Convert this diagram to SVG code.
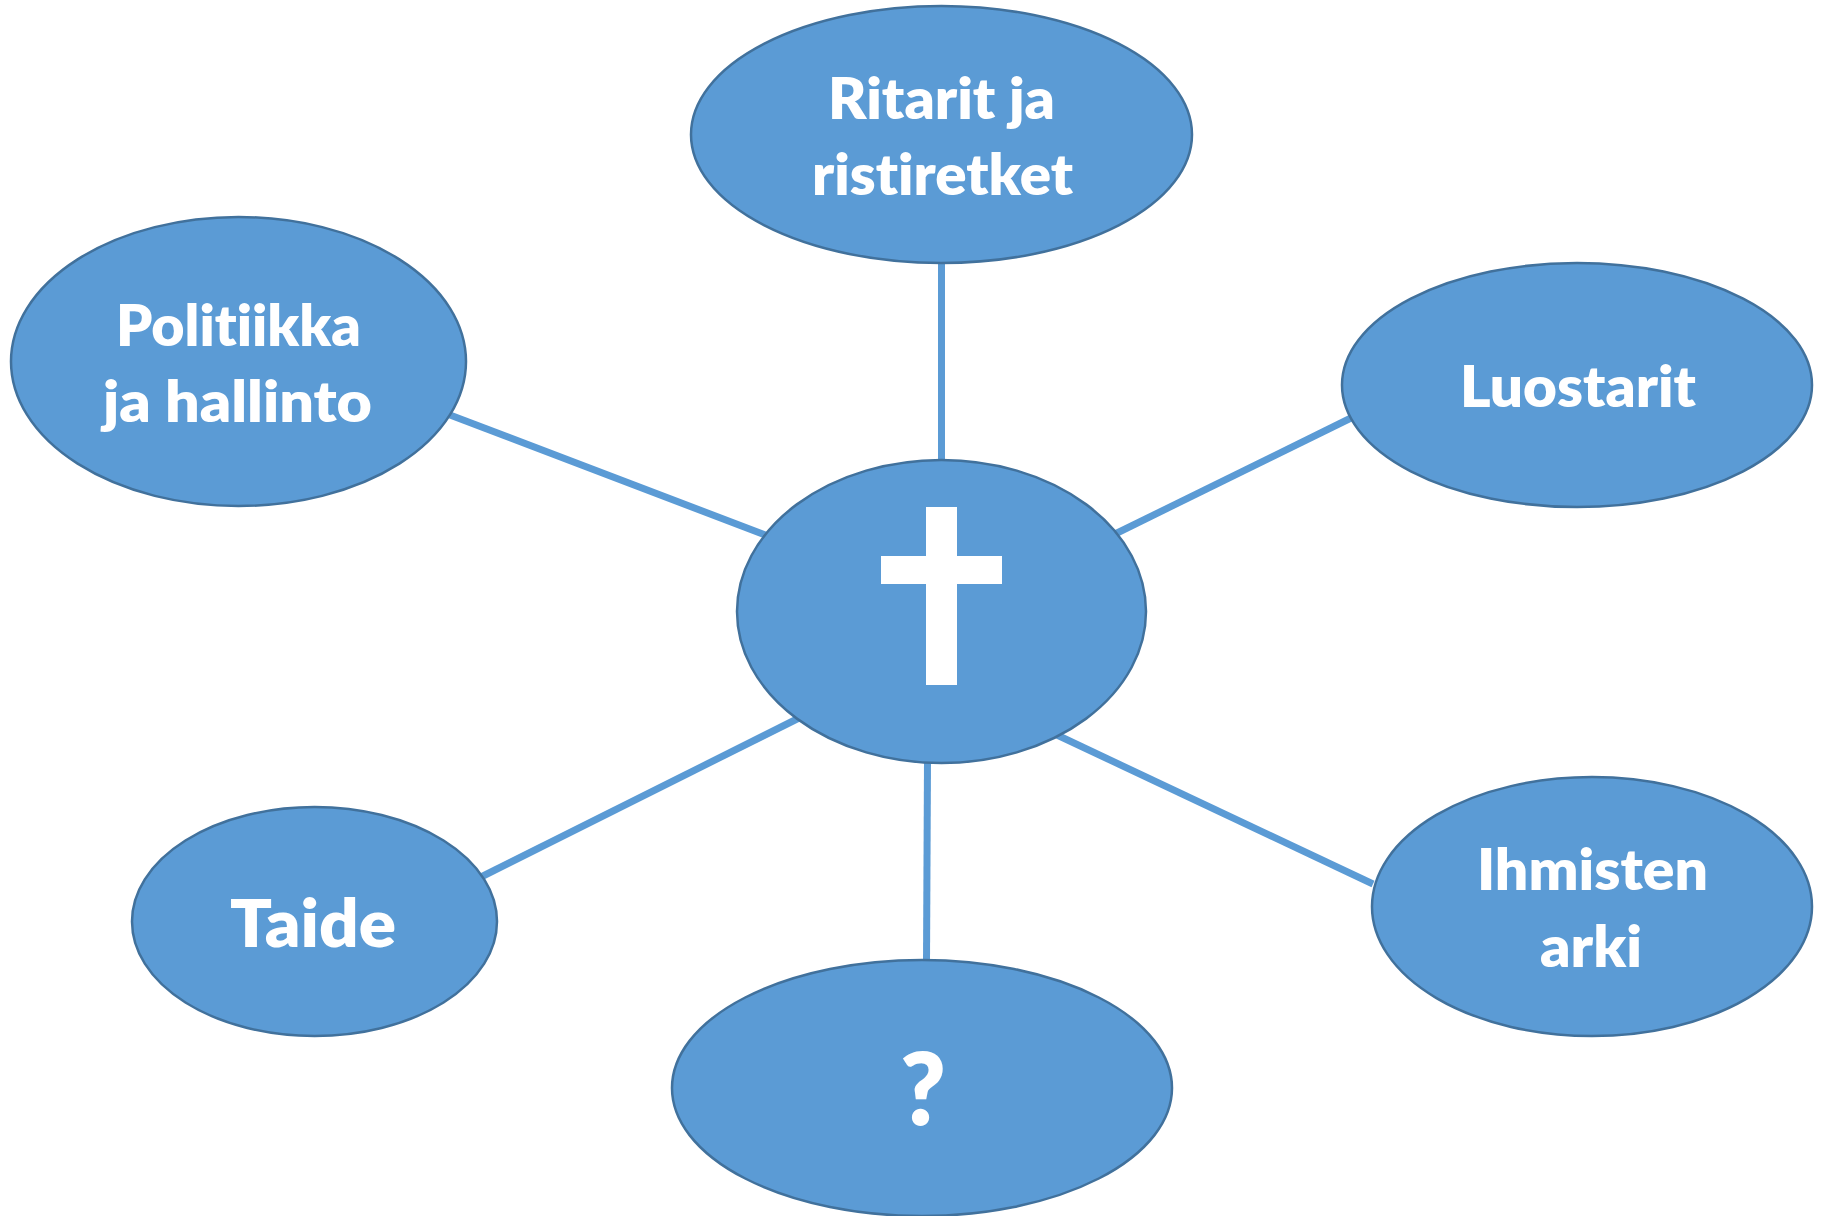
<svg xmlns="http://www.w3.org/2000/svg" width="1821" height="1216" viewBox="0 0 1821 1216">
<style>
  .node { fill: #5B9BD5; stroke: #41719C; stroke-width: 2.5; }
  .conn { stroke: #5B9BD5; stroke-width: 7; fill: none; }
  .lbl { font-family: Lato, "Open Sans", "Liberation Sans", sans-serif; font-weight: 800; font-size: 57px; fill: #FFFFFF; text-anchor: middle; font-variant-ligatures: none; font-feature-settings: "liga" 0, "clig" 0, "dlig" 0; }
  .cross { fill: #FFFFFF; }
</style>
<rect x="0" y="0" width="1821" height="1216" fill="#FFFFFF"/>
<g id="connectors">
  <line class="conn" x1="941.5" y1="262" x2="941.5" y2="462"/>
  <line class="conn" x1="450" y1="415" x2="768" y2="536"/>
  <line class="conn" x1="1115" y1="534" x2="1351" y2="418"/>
  <line class="conn" x1="481" y1="877" x2="799" y2="718"/>
  <line class="conn" x1="927.5" y1="761" x2="926.5" y2="962"/>
  <line class="conn" x1="1057" y1="735" x2="1373" y2="884"/>
</g>
<g id="node-center">
  <ellipse class="node" cx="941.5" cy="611.5" rx="204.5" ry="151.5"/>
  <rect class="cross" x="926" y="507" width="31" height="178"/>
  <rect class="cross" x="881" y="556" width="121" height="28"/>
</g>
<g id="node-ritarit">
  <ellipse class="node" cx="941.5" cy="134.5" rx="250.5" ry="128.5"/>
  <text class="lbl" x="941.5" y="119" textLength="227" lengthAdjust="spacingAndGlyphs">Ritarit ja</text>
  <text class="lbl" x="942.5" y="195" textLength="261" lengthAdjust="spacingAndGlyphs">ristiretket</text>
</g>
<g id="node-politiikka">
  <ellipse class="node" cx="238.5" cy="361.5" rx="227.5" ry="144.5"/>
  <text class="lbl" x="238.5" y="346" textLength="245" lengthAdjust="spacingAndGlyphs">Politiikka</text>
  <text class="lbl" x="237.5" y="422" textLength="269" lengthAdjust="spacingAndGlyphs">ja hallinto</text>
</g>
<g id="node-luostarit">
  <ellipse class="node" cx="1577" cy="385" rx="235" ry="122"/>
  <text class="lbl" x="1578" y="407" textLength="236" lengthAdjust="spacingAndGlyphs">Luostarit</text>
</g>
<g id="node-taide">
  <ellipse class="node" cx="314.5" cy="921.5" rx="182.5" ry="114.5"/>
  <text class="lbl" x="313" y="947" style="font-size:66px" textLength="166" lengthAdjust="spacingAndGlyphs">Taide</text>
</g>
<g id="node-question">
  <ellipse class="node" cx="922" cy="1088" rx="250" ry="128"/>
  <text class="lbl" x="923" y="1125" style="font-size:101px" textLength="46" lengthAdjust="spacingAndGlyphs">?</text>
</g>
<g id="node-ihmisten">
  <ellipse class="node" cx="1592" cy="906.5" rx="220" ry="129.5"/>
  <text class="lbl" x="1592.5" y="890" textLength="231" lengthAdjust="spacingAndGlyphs">Ihmisten</text>
  <text class="lbl" x="1591" y="967" textLength="102" lengthAdjust="spacingAndGlyphs">arki</text>
</g>
</svg>
